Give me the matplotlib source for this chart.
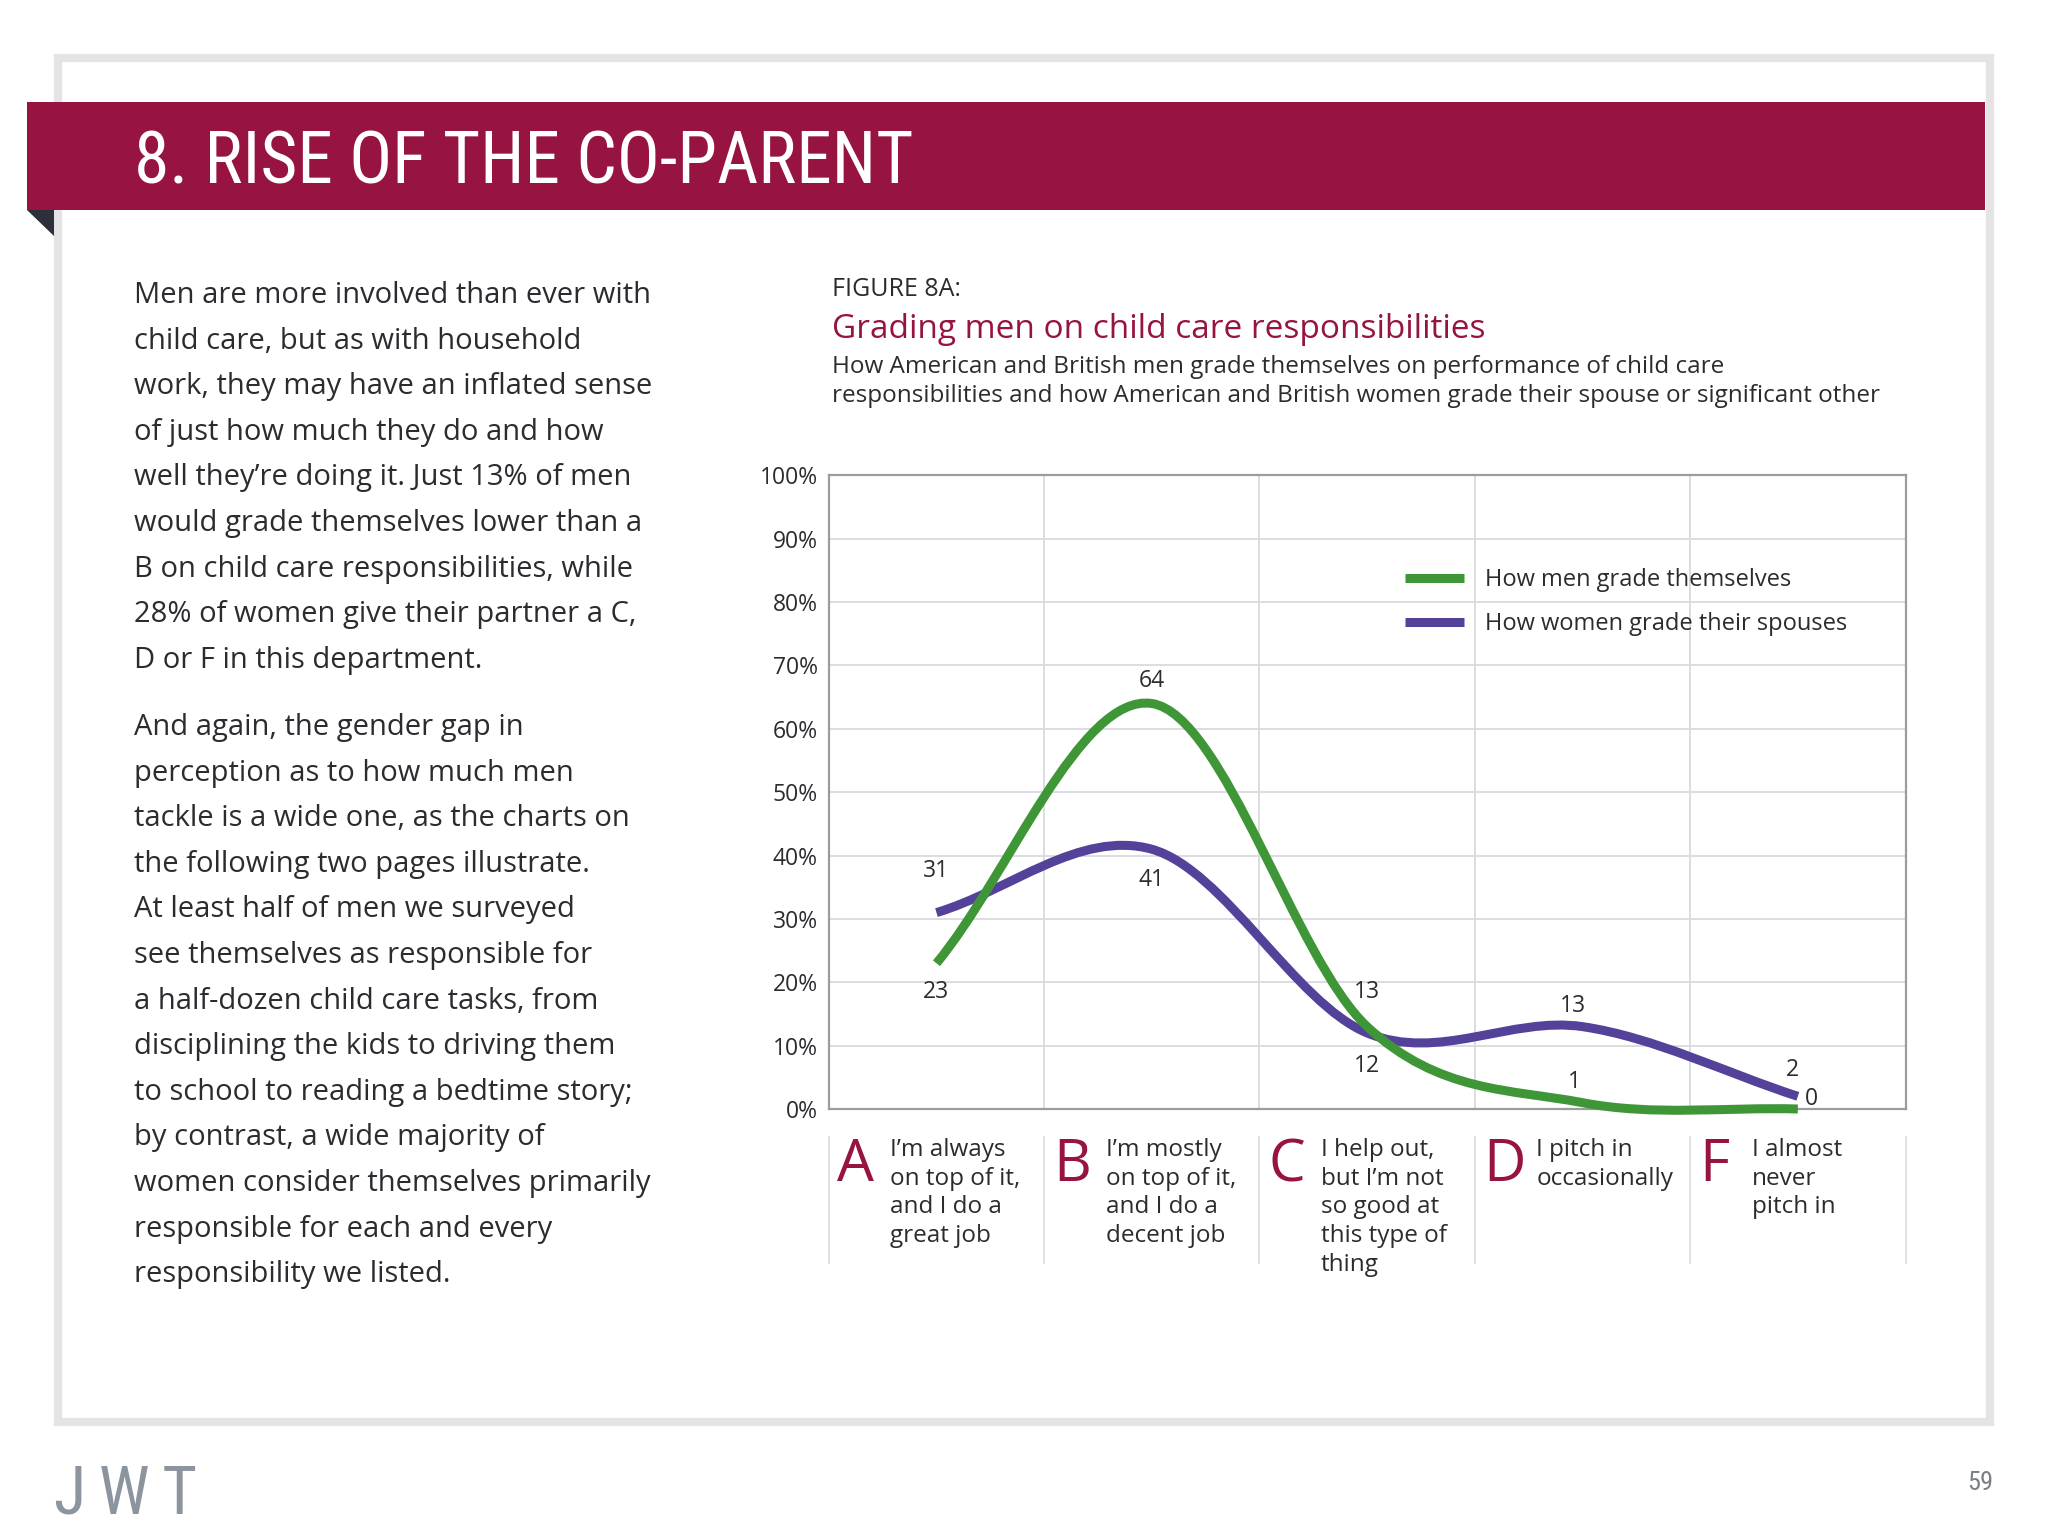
import numpy as np
import matplotlib
matplotlib.use('Agg')
import matplotlib.pyplot as plt
from matplotlib.path import Path
from matplotlib.patches import PathPatch, Rectangle, Polygon
from matplotlib.lines import Line2D
from matplotlib import transforms, font_manager

# ---- data ----
grades = ['A', 'B', 'C', 'D', 'F']
grade_text = [
    ['I’m always', 'on top of it,', 'and I do a', 'great job'],
    ['I’m mostly', 'on top of it,', 'and I do a', 'decent job'],
    ['I help out,', 'but I’m not', 'so good at', 'this type of', 'thing'],
    ['I pitch in', 'occasionally'],
    ['I almost', 'never', 'pitch in'],
]
men = [23, 64, 13, 1, 0]
women = [31, 41, 12, 13, 2]
series_names = ['How men grade themselves', 'How women grade their spouses']
y_ticks = list(range(0, 101, 10))

para1 = [
    'Men are more involved than ever with',
    'child care, but as with household',
    'work, they may have an inflated sense',
    'of just how much they do and how',
    'well they’re doing it. Just 13% of men',
    'would grade themselves lower than a',
    'B on child care responsibilities, while',
    '28% of women give their partner a C,',
    'D or F in this department.',
]
para2 = [
    'And again, the gender gap in',
    'perception as to how much men',
    'tackle is a wide one, as the charts on',
    'the following two pages illustrate.',
    'At least half of men we surveyed',
    'see themselves as responsible for',
    'a half-dozen child care tasks, from',
    'disciplining the kids to driving them',
    'to school to reading a bedtime story;',
    'by contrast, a wide majority of',
    'women consider themselves primarily',
    'responsible for each and every',
    'responsibility we listed.',
]

# ---- style ----
plt.rcParams['font.family'] = ['Open Sans', 'DejaVu Sans']


def condensed_font():
    # look for a narrow / condensed regular face among installed fonts
    found = []
    for f in font_manager.fontManager.ttflist:
        st = f.stretch
        narrow = ('Narrow' in f.name or 'Condensed' in f.name or
                  st in ('condensed', 'semi-condensed', 'extra-condensed', 'ultra-condensed') or
                  (isinstance(st, int) and st < 500))
        if narrow and f.style == 'normal' and f.weight in (400, 'normal', 'regular', 'book'):
            rank = 0 if 'Liberation' in f.name else 1 if 'Roboto' in f.name else 2 if 'DejaVu Sans' == f.name else 3
            found.append((rank, f.fname))
    if found:
        found.sort()
        return font_manager.FontProperties(fname=found[0][1]), True
    return font_manager.FontProperties(family='Roboto'), False


narrow_fp, is_narrow = condensed_font()

crimson = '#971342'
green = '#3e9637'
purple = '#54419a'
text_col = '#2b2b30'
grid_col = '#d9d9de'

fig = plt.figure(figsize=(20.48, 15.36), dpi=100, facecolor='white')

# page layer in pixel coordinates
bg = fig.add_axes([0, 0, 1, 1])
bg.set_xlim(0, 2048)
bg.set_ylim(1536, 0)
bg.axis('off')

bg.add_patch(Rectangle((58, 58), 1932, 1364, fill=False, edgecolor='#e4e4e7', lw=6))
bg.add_patch(Rectangle((27, 102), 1958, 108, color=crimson, lw=0))
bg.add_patch(Polygon([(27, 210), (54, 210), (54, 236)], closed=True, color='#2d2f3a', lw=0))

title = bg.text(134, 184, '8. RISE OF THE CO-PARENT', color='white', va='baseline', ha='left')
title.set_fontproperties(narrow_fp)
title.set_fontsize(51.5 if is_narrow else 44)

for i, line in enumerate(para1):
    bg.text(134, 303 + i * 45.6, line, fontsize=21, color=text_col, va='baseline')
for i, line in enumerate(para2):
    bg.text(134, 735 + i * 45.6, line, fontsize=21, color=text_col, va='baseline')

bg.text(832, 296, 'FIGURE 8A:', fontsize=18, color=text_col, va='baseline')
bg.text(832, 338, 'Grading men on child care responsibilities', fontsize=24,
        color=crimson, va='baseline')
bg.text(832, 373, 'How American and British men grade themselves on performance of child care',
        fontsize=17.5, color=text_col, va='baseline')
bg.text(832, 402, 'responsibilities and how American and British women grade their spouse or significant other',
        fontsize=17.5, color=text_col, va='baseline')

logo = bg.text(54, 1513, 'J\u2009W\u2009T', color='#8c959e', va='baseline')
logo.set_fontproperties(narrow_fp)
logo.set_fontsize(48)
page = bg.text(1993, 1490, '59', color='#7a7f85', va='baseline', ha='right')
page.set_fontproperties(narrow_fp)
page.set_fontsize(19)

# ---- chart ----
ax = fig.add_axes([828.8 / 2048, 1 - 1109 / 1536, (1905.5 - 828.8) / 2048, (1109 - 475.4) / 1536])
ax.set_facecolor('none')
ax.set_xlim(0, len(grades))
ax.set_ylim(0, 100)
ax.set_yticks(y_ticks)
ax.set_yticklabels([f'{v}%' for v in y_ticks], fontsize=16.5, color=text_col)
ax.set_xticks(range(1, len(grades)))
ax.set_xticklabels([])
ax.tick_params(length=0, pad=8)
ax.grid(True, color=grid_col, lw=1.3)
ax.set_axisbelow(True)
for s in ax.spines.values():
    s.set_color('#9c9c9c')
    s.set_linewidth(1.6)

x = np.arange(len(grades)) + 0.5


def smooth_path(xs, ys):
    xs = np.asarray(xs, float)
    ys = np.asarray(ys, float)
    m = np.empty(len(ys))
    m[1:-1] = (ys[2:] - ys[:-2]) / (xs[2:] - xs[:-2])
    m[0] = (ys[1] - ys[0]) / (xs[1] - xs[0])
    m[-1] = (ys[-1] - ys[-2]) / (xs[-1] - xs[-2])
    verts = [(xs[0], ys[0])]
    codes = [Path.MOVETO]
    for i in range(len(xs) - 1):
        h = xs[i + 1] - xs[i]
        verts += [(xs[i] + h / 3, ys[i] + m[i] * h / 3),
                  (xs[i + 1] - h / 3, ys[i + 1] - m[i + 1] * h / 3),
                  (xs[i + 1], ys[i + 1])]
        codes += [Path.CURVE4] * 3
    return Path(verts, codes)


for vals, col in [(women, purple), (men, green)]:
    ax.add_patch(PathPatch(smooth_path(x, vals), fill=False, edgecolor=col, lw=6.5,
                           capstyle='butt', joinstyle='round', clip_on=False, zorder=3))

men_off = [(0, -21), (0, 16), (0, 25), (-6, 15), (10, 7)]
women_off = [(0, 30), (0, -22), (0, -24), (-7, 15), (-4, 19)]
for vals, offs in [(men, men_off), (women, women_off)]:
    for xi, v, o in zip(x, vals, offs):
        ax.annotate(str(v), (xi, v), xytext=o, textcoords='offset points',
                    ha='center', va='center', fontsize=16.5, color=text_col, zorder=4)

handles = [Line2D([], [], color=green, lw=6.5, solid_capstyle='butt'),
           Line2D([], [], color=purple, lw=6.5, solid_capstyle='butt')]
leg = ax.legend(handles, series_names, loc='center left', bbox_to_anchor=(0.535, 0.80),
                frameon=False, fontsize=17, handlelength=2.5, handletextpad=0.9,
                labelspacing=0.85, borderpad=0, borderaxespad=0)
for t in leg.get_texts():
    t.set_color(text_col)

# category labels under the plot
blend = transforms.blended_transform_factory(ax.transData, bg.transData)
ax.vlines(range(len(grades) + 1), 1136, 1264, transform=blend, colors='#dedee2',
          lw=1.3, clip_on=False)
for i, (g, lines) in enumerate(zip(grades, grade_text)):
    ax.text(i + 0.04, 1181, g, transform=blend, fontsize=42, color=crimson,
            va='baseline', ha='left', clip_on=False)
    for j, line in enumerate(lines):
        ax.text(i + 0.285, 1156 + j * 28.7, line, transform=blend, fontsize=17.5,
                color=text_col, va='baseline', ha='left', clip_on=False)

fig.savefig('out.png', dpi=100, facecolor='white')
